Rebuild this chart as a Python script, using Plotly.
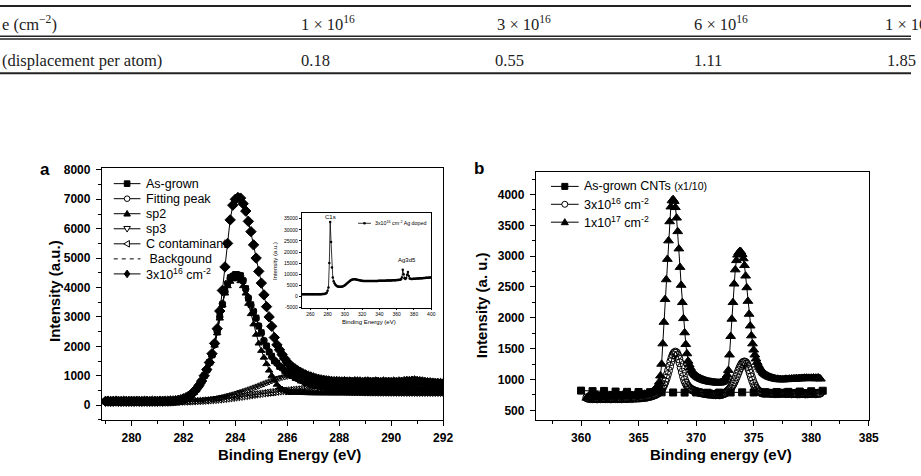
import numpy as np
import plotly.graph_objects as go

W, H = 921, 476

# ---------------- table (top strip) ----------------
table_row1 = ["e (cm<sup>−2</sup>)", "1 × 10<sup>16</sup>", "3 × 10<sup>16</sup>",
              "6 × 10<sup>16</sup>", "1 × 10<sup>17</sup>"]
table_row2 = ["(displacement per atom)", "0.18", "0.55", "1.11", "1.85"]

# ---------------- panel a : C1s ----------------
energy_a_start, energy_a_step, energy_a_n = 279.0, 0.1, 131
energy_a = np.round(energy_a_start + energy_a_step * np.arange(energy_a_n), 1)

dose_3e16_a = [
    130, 135, 128, 132, 138, 130, 127, 134, 131, 129,
    133, 128, 136, 130, 127, 135, 132, 129, 134, 131,
    130, 136, 133, 138, 135, 140, 145, 152, 165, 185,
    215, 255, 305, 370, 450, 550, 670, 820, 1000, 1210,
    1450, 1750, 2100, 2600, 3200, 3900, 4700, 5500, 6300, 6800,
    7000, 7060, 7040, 6850, 6600, 6250, 5900, 5450, 5000, 4550,
    4150, 3750, 3350, 3000, 2680, 2300, 2050, 1880, 1720, 1580,
    1460, 1370, 1290, 1230, 1170, 1120, 1070, 1030, 990, 960,
    930, 900, 880, 860, 845, 830, 820, 810, 800, 805,
    795, 790, 800, 785, 790, 780, 795, 785, 790, 775,
    785, 790, 780, 775, 790, 780, 770, 785, 775, 780,
    770, 785, 775, 790, 780, 800, 810, 805, 815, 820,
    810, 800, 790, 775, 765, 760, 750, 745, 740, 735,
    725]

fitting_peak = [
    120, 118, 122, 119, 121, 117, 120, 123, 118, 120,
    121, 119, 122, 120, 118, 121, 123, 120, 122, 124,
    125, 127, 130, 133, 137, 142, 148, 156, 166, 178,
    195, 225, 270, 340, 430, 540, 660, 810, 990, 1200,
    1440, 1720, 2050, 2500, 3000, 3450, 3850, 4150, 4320, 4400,
    4430, 4440, 4400, 4250, 3950, 3650, 3400, 3200, 2950, 2700,
    2450, 2200, 2000, 1820, 1650, 1520, 1420, 1330, 1260, 1180,
    1110, 1050, 1000, 950, 900, 860, 820, 780, 750, 720,
    700, 680, 660, 645, 630, 615, 600, 590, 580, 572,
    565, 560, 557, 554, 552, 550, 549, 548, 547, 546,
    545, 545, 544, 544, 543, 543, 542, 542, 541, 541,
    540, 538, 536, 534, 532, 530, 528, 526, 524, 522,
    520, 517, 514, 511, 508, 505, 502, 499, 496, 493,
    490]

as_grown_a = [
    125, 118, 130, 122, 116, 127, 121, 119, 128, 123,
    117, 126, 122, 129, 118, 124, 120, 127, 121, 125,
    128, 124, 133, 130, 140, 139, 152, 153, 170, 176,
    200, 220, 278, 335, 440, 530, 672, 800, 1005, 1190,
    1460, 1700, 2080, 2480, 3030, 3420, 3880, 4120, 4340, 4380,
    4450, 4420, 4410, 4230, 3970, 3630, 3420, 3180, 2970, 2680,
    2470, 2180, 2020, 1800, 1670, 1500, 1440, 1310, 1280, 1160,
    1130, 1030, 1020, 930, 915, 845, 835, 765, 765, 705,
    715, 665, 675, 630, 645, 600, 612, 578, 592, 560,
    578, 548, 568, 542, 563, 538, 560, 536, 558, 534,
    556, 534, 555, 533, 554, 532, 553, 531, 552, 530,
    550, 527, 546, 523, 542, 519, 538, 515, 534, 511,
    530, 506, 524, 500, 518, 494, 512, 488, 506, 482,
    496]

sp2 = [
    110, 110, 110, 110, 110, 110, 110, 110, 110, 110,
    110, 110, 110, 110, 110, 110, 110, 110, 110, 110,
    112, 114, 117, 120, 124, 129, 135, 143, 153, 166,
    185, 215, 260, 330, 420, 530, 650, 800, 975, 1185,
    1420, 1700, 2030, 2450, 2950, 3400, 3800, 4050, 4200, 4280,
    4320, 4300, 4220, 4050, 3800, 3450, 3100, 2750, 2400, 2100,
    1850, 1620, 1400, 1180, 1000, 850, 700, 600, 540, 500,
    470, 450, 440, 432, 426, 422, 418, 415, 413, 411,
    410, 409, 408, 408, 407, 407, 406, 406, 405, 405,
    405, 404, 404, 404, 403, 403, 403, 403, 402, 402,
    402, 402, 402, 402, 402, 402, 402, 402, 402, 402,
    401, 401, 401, 401, 401, 401, 401, 401, 401, 401,
    400, 400, 400, 400, 400, 400, 400, 400, 400, 400,
    400]

sp3 = [
    108, 108, 109, 109, 109, 110, 110, 110, 110, 110,
    111, 111, 111, 112, 112, 112, 113, 113, 114, 114,
    115, 116, 117, 118, 119, 120, 121, 122, 124, 126,
    128, 131, 134, 138, 143, 149, 156, 164, 173, 183,
    195, 208, 222, 238, 255, 273, 293, 314, 336, 360,
    385, 411, 438, 466, 495, 525, 556, 588, 620, 652,
    690, 725, 760, 795, 830, 862, 892, 920, 945, 965,
    985, 998, 1000, 990, 970, 942, 908, 870, 830, 790,
    750, 710, 672, 636, 603, 573, 546, 523, 503, 486,
    472, 460, 450, 442, 436, 431, 427, 424, 421, 419,
    417, 416, 415, 414, 413, 412, 411, 410, 410, 409,
    408, 408, 407, 407, 406, 406, 405, 405, 405, 404,
    404, 404, 403, 403, 403, 402, 402, 402, 401, 401,
    400]

c_contaminant = [
    105, 105, 105, 106, 106, 106, 107, 107, 107, 108,
    108, 108, 109, 109, 109, 110, 110, 110, 111, 111,
    112, 112, 113, 114, 115, 116, 117, 118, 120, 122,
    124, 126, 129, 132, 135, 139, 143, 148, 153, 159,
    165, 172, 180, 188, 197, 207, 217, 228, 239, 251,
    263, 276, 289, 302, 315, 328, 341, 354, 367, 380,
    392, 404, 416, 428, 439, 450, 460, 470, 480, 489,
    498, 507, 515, 523, 530, 537, 544, 550, 556, 562,
    567, 572, 577, 581, 585, 589, 592, 595, 598, 600,
    602, 604, 606, 607, 608, 609, 610, 610, 610, 610,
    610, 609, 608, 607, 606, 604, 602, 600, 598, 595,
    592, 589, 586, 583, 579, 575, 571, 567, 563, 559,
    555, 550, 545, 540, 535, 530, 525, 520, 515, 510,
    505]

bg_energy = [279.0, 279.5, 280.0, 280.5, 281.0, 281.5, 282.0, 282.5, 283.0, 283.5,
             284.0, 284.5, 285.0, 285.5, 286.0, 286.5, 287.0, 287.5, 288.0, 288.5,
             289.0, 289.5, 290.0, 290.5, 291.0, 291.5, 292.0]
background = [100, 100, 101, 102, 103, 105, 108, 115, 130, 160,
              210, 265, 310, 340, 362, 376, 385, 391, 395, 397,
              398, 399, 400, 400, 400, 400, 400]

legend_a_labels = ["As-grown", "Fitting peak", "sp2", "sp3", "C contaminant",
                   " Backgound", "3x10<sup>16</sup> cm<sup>-2</sup>"]

xticks_a = [280, 282, 284, 286, 288, 290, 292]
yticks_a = [0, 1000, 2000, 3000, 4000, 5000, 6000, 7000, 8000]

# ---------------- inset : survey ----------------
survey_energy = list(range(250, 401))
survey = [
    1000, 1010, 990, 1005, 995, 1000, 1010, 990, 1000, 1005,
    995, 1000, 1010, 990, 1000, 1005, 995, 1000, 1010, 990,
    1000, 1010, 1020, 1030, 1050, 1080, 1120, 1200, 1350, 1700,
    2600, 4000, 15000, 33500, 24500, 13000, 8500, 6800, 5900, 5300,
    4900, 4600, 4450, 4350, 4300, 4300, 4350, 4450, 4600, 4800,
    5050, 5350, 5700, 6050, 6400, 6750, 7050, 7300, 7500, 7620,
    7680, 7700, 7680, 7620, 7540, 7450, 7350, 7250, 7150, 7080,
    7020, 6980, 6950, 6930, 6920, 6910, 6900, 6900, 6890, 6900,
    6900, 6910, 6900, 6920, 6930, 6950, 6960, 6980, 7000, 7010,
    7020, 7030, 7040, 7050, 7060, 7080, 7090, 7100, 7120, 7130,
    7150, 7160, 7180, 7200, 7220, 7240, 7260, 7280, 7300, 7320,
    7350, 7380, 7420, 7480, 7550, 7700, 8500, 12000, 10000, 8200,
    7900, 8300, 9800, 11000, 9200, 8100, 7950, 7900, 7900, 7920,
    7950, 7980, 8000, 8020, 8050, 8080, 8100, 8130, 8160, 8200,
    8230, 8260, 8300, 8330, 8360, 8400, 8430, 8460, 8500, 8530,
    8560]
xticks_inset = [260, 280, 300, 320, 340, 360, 380, 400]
yticks_inset = [-5000, 0, 5000, 10000, 15000, 20000, 25000, 30000, 35000]

# ---------------- panel b : Ag3d ----------------
energy_b_start, energy_b_step, energy_b_n = 360.5, 0.1, 204
energy_b = np.round(energy_b_start + energy_b_step * np.arange(energy_b_n), 1)

dose_1e17_b = [
    700, 720, 735, 710, 745,
    730, 715, 740, 725, 750, 735, 720, 745, 730, 715,
    740, 725, 750, 735, 720, 745, 730, 740, 725, 750,
    735, 720, 745, 730, 740, 725, 750, 735, 745, 730,
    740, 725, 750, 735, 745, 740, 730, 755, 740, 750,
    745, 755, 740, 760, 750, 765, 760, 775, 770, 775,
    780, 790, 800, 815, 830, 850, 875, 910, 960, 1060,
    1250, 1580, 1930, 2300, 2620, 2950, 3250, 3560, 3800, 3900,
    3920, 3890, 3790, 3620, 3400, 3120, 2820, 2530, 2250, 1990,
    1760, 1570, 1420, 1300, 1240, 1190, 1150, 1120, 1095, 1075,
    1060, 1045, 1033, 1022, 1012, 1003, 995, 988, 981, 975,
    970, 965, 962, 958, 955, 952, 950, 948, 946, 945,
    945, 948, 955, 965, 980, 1000, 1030, 1075, 1150, 1400,
    1700, 1980, 2250, 2550, 2780, 2930, 3020, 3060, 3080, 3070,
    3030, 2960, 2850, 2680, 2490, 2270, 2060, 1870, 1710, 1580,
    1480, 1400, 1335, 1280, 1235, 1200, 1170, 1145, 1120, 1100,
    1085, 1070, 1058, 1048, 1040, 1032, 1026, 1020, 1015, 1010,
    1005, 1008, 998, 1004, 995, 1002, 996, 1003, 1008, 1000,
    1005, 1010, 1002, 1012, 1006, 1015, 1008, 1018, 1010, 1016,
    1020, 1012, 1022, 1015, 1025, 1018, 1026, 1016, 1024, 1018,
    1025, 1015, 1028, 1018, 1026, 1014, 1030, 1020, 1010]

dose_3e16_b = [
    705, 695, 700, 690, 698,
    688, 695, 690, 700, 685, 693, 698, 688, 695, 690,
    698, 688, 695, 690, 700, 692, 686, 697, 691, 699,
    690, 696, 688, 699, 693, 687, 698, 692, 700, 694,
    689, 700, 695, 702, 690, 698, 705, 696, 703, 699,
    706, 700, 710, 704, 712, 708, 716, 712, 720, 725,
    728, 732, 738, 745, 752, 760, 770, 782, 798, 818,
    845, 878, 918, 965, 1020, 1080, 1145, 1215, 1290, 1350,
    1400, 1430, 1445, 1430, 1390, 1335, 1270, 1195, 1120, 1050,
    990, 945, 910, 885, 865, 850, 838, 828, 820, 812,
    806, 800, 795, 790, 786, 782, 778, 775, 772, 769,
    766, 762, 768, 758, 764, 755, 761, 752, 760, 755,
    752, 755, 758, 763, 770, 779, 790, 804, 820, 840,
    864, 892, 925, 962, 1003, 1048, 1095, 1142, 1188, 1228,
    1258, 1278, 1285, 1276, 1250, 1210, 1160, 1102, 1042, 985,
    935, 893, 860, 835, 816, 802, 792, 785, 780, 777,
    780, 778, 782, 776, 780, 774, 779, 772, 777, 771,
    776, 770, 778, 772, 780, 774, 782, 776, 770, 778,
    772, 780, 774, 768, 776, 770, 778, 772, 766, 774,
    768, 776, 770, 778, 772, 766, 774, 768, 776, 770,
    778, 772, 780, 774, 768, 776, 780, 774, 782]

as_grown_b_energy = list(range(360, 382))
as_grown_b = [820, 812, 815, 805, 800, 798, 795, 792, 790, 788, 790,
              786, 788, 790, 792, 790, 795, 798, 800, 805, 810, 818]

legend_b_labels = ["As-grown CNTs <span style='font-size:10.5px'>(x1/10)</span>",
                   "3x10<sup>16</sup> cm<sup>-2</sup>",
                   "1x10<sup>17</sup> cm<sup>-2</sup>"]

xticks_b = [360, 365, 370, 375, 380, 385]
yticks_b = [500, 1000, 1500, 2000, 2500, 3000, 3500, 4000]

# ---------------- figure ----------------
def px(x):
    return x / W


def py(y):
    return 1 - y / H


SANS = "Liberation Sans, Arial, sans-serif"
SERIF = "Liberation Serif, Times New Roman, serif"

fig = go.Figure()
LW = 1


def add(x, y, symbol, size, xa, ya, dash=None, mode="lines+markers", lw=LW, mlw=1):
    fig.add_trace(go.Scatter(
        x=x, y=y, mode=mode, xaxis=xa, yaxis=ya, showlegend=False,
        line=dict(color="black", width=lw, dash=dash),
        marker=dict(symbol=symbol, size=size, color="black",
                    line=dict(color="black", width=mlw)),
        hoverinfo="skip"))


# panel a
add(bg_energy, background, None, 0, "x", "y", dash="dash", mode="lines")
add(energy_a, c_contaminant, "triangle-left-open", 6.5, "x", "y")
add(energy_a, sp3, "triangle-down-open", 6.5, "x", "y")
add(energy_a, fitting_peak, "circle-open", 6.5, "x", "y")
add(energy_a, as_grown_a, "square", 5.5, "x", "y")
add(energy_a, sp2, "triangle-up", 6.5, "x", "y")
add(energy_a, dose_3e16_a, "diamond", 8, "x", "y")
# inset
add(survey_energy, survey, "circle", 2.5, "x3", "y3", lw=0.8, mlw=0)
# panel b
add(as_grown_b_energy, as_grown_b, "square", 7, "x2", "y2")
add(energy_b, dose_3e16_b, "circle-open", 8, "x2", "y2")
add(energy_b, dose_1e17_b, "triangle-up", 8.5, "x2", "y2")

tickfont = dict(family=SANS, size=12, color="black")
base = dict(showline=True, linecolor="black", linewidth=1, mirror=True,
            ticks="outside", ticklen=5, tickwidth=1, tickcolor="black",
            showgrid=False, zeroline=False, tickfont=tickfont)


def bold(vals):
    return [f"<b>{v}</b>" for v in vals]


inset_base = dict(showline=True, linecolor="black", linewidth=0.8, mirror=True,
                  ticks="outside", ticklen=2, tickwidth=0.8, tickcolor="black",
                  showgrid=False, zeroline=False,
                  tickfont=dict(family=SANS, size=5, color="black"))

fig.update_layout(
    width=W, height=H, autosize=False,
    margin=dict(l=0, r=0, t=0, b=0, pad=0),
    paper_bgcolor="white", plot_bgcolor="white",
    showlegend=False,
    xaxis=dict(base, domain=[px(103), px(448)], range=[278.86, 292.0], anchor="y",
               tickvals=xticks_a, ticktext=bold(xticks_a),
               minor=dict(ticks="outside", ticklen=3, tickcolor="black", dtick=1, tick0=279),
               ticklabelstandoff=2),
    yaxis=dict(base, domain=[py(422), py(166)], range=[-502, 8057], anchor="x",
               tickvals=yticks_a, ticktext=bold(yticks_a),
               minor=dict(ticks="outside", ticklen=3, tickcolor="black", dtick=500, tick0=0),
               ticklabelstandoff=3),
    xaxis2=dict(base, domain=[px(541.7), px(878.3)], range=[356.07, 385.0], anchor="y2",
                tickvals=xticks_b, ticktext=bold(xticks_b),
                minor=dict(ticks="outside", ticklen=3, tickcolor="black", dtick=2.5, tick0=360),
                ticklabelstandoff=2),
    yaxis2=dict(base, domain=[py(421.7), py(170)], range=[350, 4362], anchor="x2",
                tickvals=yticks_b, ticktext=bold(yticks_b),
                minor=dict(ticks="outside", ticklen=3, tickcolor="black", dtick=250, tick0=500),
                ticklabelstandoff=3),
    xaxis3=dict(inset_base, domain=[px(305), px(436)], range=[250, 400], anchor="y3",
                tickvals=xticks_inset, ticktext=[str(v) for v in xticks_inset],
                ticklabelstandoff=0),
    yaxis3=dict(inset_base, domain=[py(307.7), py(211.7)], range=[-5000, 37500], anchor="x3",
                tickvals=yticks_inset, ticktext=[str(v) for v in yticks_inset],
                ticklabelstandoff=0),
)

annotations = []
shapes = []

# table
tbl_font = dict(family=SERIF, size=16.5, color="#222")
for txt, x in zip(table_row1, [0, 302, 500, 700, 893]):
    annotations.append(dict(text=txt, x=px(x), y=py(19), xref="paper", yref="paper",
                            xanchor="left", yanchor="middle", showarrow=False, font=tbl_font))
for txt, x in zip(table_row2, [0, 302, 498, 700, 895]):
    annotations.append(dict(text=txt, x=px(x), y=py(56), xref="paper", yref="paper",
                            xanchor="left", yanchor="middle", showarrow=False, font=tbl_font))
for yy, wd in [(1.0, 2.0), (31.8, 1.3), (34.6, 1.3), (69.3, 2.0)]:
    shapes.append(dict(type="line", xref="paper", yref="paper", x0=0, x1=1,
                       y0=py(yy), y1=py(yy), line=dict(color="#222", width=wd)))

# axis titles and panel labels
tfont = dict(family=SANS, size=15, color="black")
pfont = dict(family=SANS, size=17, color="black")
for txt, x, y, ang, f in [
    ("<b>Binding Energy (eV)</b>", 292.5, 457, 0, tfont),
    ("<b>Intensity (a.u.)</b>", 55, 290.5, -90, tfont),
    ("<b>Binding energy (eV)</b>", 729, 457.5, 0, tfont),
    ("<b>Intensity (a. u.)</b>", 486.7, 305, -90, tfont),
    ("<b>a</b>", 45, 167, 0, pfont),
    ("<b>b</b>", 484, 166, 0, pfont),
]:
    annotations.append(dict(text=txt, x=px(x), y=py(y), xref="paper", yref="paper",
                            showarrow=False, xanchor="center", yanchor="middle",
                            textangle=ang, font=f))

# inset texts
ifont = dict(family=SANS, size=6, color="black")
for txt, x, y, ang in [
    ("Binding Energy (eV)", 373, 322.5, 0),
    ("Intensity (a.u.)", 277.5, 260, -90),
    ("C1s", 334.5, 215.5, 0),
    ("Ag3d5", 411, 259, 0),
]:
    annotations.append(dict(text=txt, x=px(x), y=py(y), xref="paper", yref="paper",
                            showarrow=False, xanchor="center", yanchor="middle",
                            textangle=ang, font=ifont))
annotations.append(dict(text="3x10<sup>16</sup> cm<sup>-2</sup> Ag doped", x=px(377), y=py(222),
                        xref="paper", yref="paper", showarrow=False, xanchor="left",
                        yanchor="middle", font=dict(family=SANS, size=5.3, color="black")))
shapes.append(dict(type="line", xref="paper", yref="paper", x0=px(362), x1=px(375),
                   y0=py(222), y1=py(222), line=dict(color="black", width=0.8)))
shapes.append(dict(type="circle", xref="paper", yref="paper", xsizemode="pixel", ysizemode="pixel",
                   xanchor=px(368.5), yanchor=py(222), x0=-1.3, x1=1.3, y0=-1.3, y1=1.3,
                   fillcolor="black", line=dict(color="black", width=0)))


# manual legends
def marker_shape(kind, cx, cy, r=3.0):
    common = dict(xref="paper", yref="paper", xsizemode="pixel", ysizemode="pixel",
                  xanchor=px(cx), yanchor=py(cy), line=dict(color="black", width=1))
    filled = kind in ("square", "tri_up", "diamond")
    common["fillcolor"] = "black" if filled else "white"
    if kind == "square":
        return dict(common, type="rect", x0=-r, x1=r, y0=-r, y1=r)
    if kind == "circle":
        return dict(common, type="circle", x0=-r, x1=r, y0=-r, y1=r)
    if kind == "tri_up":
        return dict(common, type="path", path=f"M {-r-0.5},{-r+0.5} L {r+0.5},{-r+0.5} L 0,{r+0.5} Z")
    if kind == "tri_down":
        return dict(common, type="path", path=f"M {-r-0.5},{r-0.5} L {r+0.5},{r-0.5} L 0,{-r-0.5} Z")
    if kind == "tri_left":
        return dict(common, type="path", path=f"M {r-0.5},{-r-0.5} L {r-0.5},{r+0.5} L {-r-0.5},0 Z")
    if kind == "diamond":
        return dict(common, type="path", path=f"M 0,{r+1} L {r},0 L 0,{-r-1} L {-r},0 Z")


lfont = dict(family=SANS, size=12.5, color="black")
kinds_a = ["square", "circle", "tri_up", "tri_down", "tri_left", None, "diamond"]
for i, (lab, kind) in enumerate(zip(legend_a_labels, kinds_a)):
    yy = 181.7 + 15.3 * i
    if kind is None:
        shapes.append(dict(type="line", xref="paper", yref="paper", x0=px(115), x1=px(142),
                           y0=py(yy), y1=py(yy), line=dict(color="black", width=1, dash="4px,4px")))
    else:
        shapes.append(dict(type="line", xref="paper", yref="paper", x0=px(115), x1=px(142),
                           y0=py(yy), y1=py(yy), line=dict(color="black", width=1)))
        shapes.append(marker_shape(kind, 128.5, yy, 2.8))
    annotations.append(dict(text=lab, x=px(146), y=py(yy), xref="paper", yref="paper",
                            showarrow=False, xanchor="left", yanchor="middle", font=lfont))

kinds_b = ["square", "circle", "tri_up"]
for i, (lab, kind) in enumerate(zip(legend_b_labels, kinds_b)):
    yy = 184.5 + 18.2 * i
    shapes.append(dict(type="line", xref="paper", yref="paper", x0=px(557), x1=px(585),
                       y0=py(yy), y1=py(yy), line=dict(color="black", width=1)))
    shapes.append(marker_shape(kind, 571, yy, 3.0))
    annotations.append(dict(text=lab, x=px(588), y=py(yy), xref="paper", yref="paper",
                            showarrow=False, xanchor="left", yanchor="middle", font=lfont))

fig.update_layout(annotations=annotations, shapes=shapes)
fig.write_html("out.html")
